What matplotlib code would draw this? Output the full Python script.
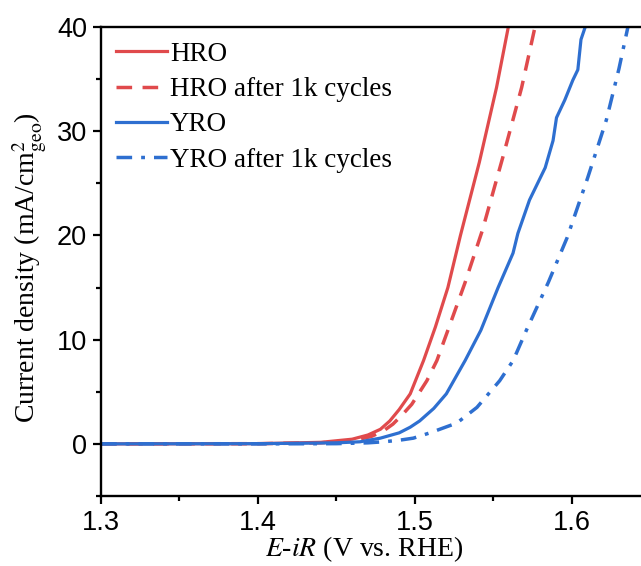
import numpy as np
import matplotlib
matplotlib.use("Agg")
import matplotlib.pyplot as plt
from matplotlib.ticker import MultipleLocator

plt.rcParams['font.family'] = ['Liberation Serif', 'DejaVu Serif']
plt.rcParams['mathtext.fontset'] = 'stix'

# values
hro_x = [1.30, 1.40, 1.44, 1.46, 1.47, 1.478, 1.484, 1.490, 1.497, 1.5055, 1.513, 1.521, 1.529, 1.541, 1.552, 1.5595]
hro_y = [0.0, 0.02, 0.15, 0.45, 0.85, 1.4, 2.2, 3.3, 4.8, 8.0, 11.2, 15.0, 20.0, 27.0, 34.2, 40.0]

hro_cyc_x = [1.30, 1.40, 1.44, 1.46, 1.472, 1.480, 1.486, 1.492, 1.498, 1.5076, 1.514, 1.521, 1.532, 1.543, 1.556, 1.568, 1.5765]
hro_cyc_y = [0.0, 0.02, 0.1, 0.3, 0.7, 1.25, 1.9, 2.8, 3.8, 6.06, 8.0, 10.9, 15.5, 20.5, 27.5, 34.2, 40.0]

yro_x = [1.30, 1.40, 1.45, 1.465, 1.478, 1.490, 1.497, 1.503, 1.512, 1.520, 1.532, 1.542, 1.553, 1.5625,
         1.5656, 1.573, 1.583, 1.588, 1.5902, 1.5955, 1.6006, 1.6038, 1.6058, 1.6085]
yro_y = [0.0, 0.02, 0.1, 0.2, 0.55, 1.06, 1.6, 2.2, 3.4, 4.8, 8.0, 10.9, 15.0, 18.3,
         20.2, 23.4, 26.5, 29.1, 31.3, 33.0, 34.9, 35.9, 38.8, 40.0]

yro_cyc_x = [1.30, 1.40, 1.45, 1.47, 1.480, 1.490, 1.499, 1.5096, 1.5267, 1.5395, 1.554, 1.5626, 1.571,
             1.585, 1.597, 1.610, 1.622, 1.630, 1.6357]
yro_cyc_y = [0.0, 0.0, 0.02, 0.1, 0.2, 0.35, 0.55, 1.06, 2.0, 3.5, 6.06, 8.0, 10.9,
             15.5, 19.8, 25.5, 31.1, 36.0, 40.0]

red = '#E04A4C'
blue = '#2E6FD0'

fig = plt.figure(figsize=(6.41, 5.66), dpi=100)
ax = fig.add_axes([0.1576, 0.1237, 0.857, 0.8286])

ax.plot(hro_x, hro_y, color=red, lw=2.3, label='HRO')
ax.plot(hro_cyc_x, hro_cyc_y, color=red, lw=2.5, dashes=(4.5, 3), label='HRO after 1k cycles')
ax.plot(yro_x, yro_y, color=blue, lw=2.3, label='YRO')
ax.plot(yro_cyc_x, yro_cyc_y, color=blue, lw=2.5, dashes=(4.5, 2.6, 1.1, 2.6), label='YRO after 1k cycles')

ax.set_xlim(1.3, 1.65)
ax.set_ylim(-5, 40)
ax.xaxis.set_major_locator(MultipleLocator(0.1))
ax.xaxis.set_minor_locator(MultipleLocator(0.05))
ax.yaxis.set_major_locator(MultipleLocator(10))
ax.yaxis.set_minor_locator(MultipleLocator(5))

for s in ax.spines.values():
    s.set_linewidth(1.7)
ax.tick_params(which='major', direction='out', length=6, width=1.6, labelsize=19.5, pad=4)
ax.tick_params(which='minor', direction='out', length=3.5, width=1.6)
for lab in ax.get_xticklabels() + ax.get_yticklabels():
    lab.set_family('Liberation Sans')

ax.set_xlabel('$E$-$iR$ (V vs. RHE)', fontsize=20)
ax.xaxis.set_label_coords(0.478, -0.081, transform=ax.transAxes)
ax.xaxis.label.set_va('top')
ax.set_ylabel('Current density (mA/cm$^{2}_{\\mathrm{geo}}$)', fontsize=20)
ax.yaxis.set_label_coords(-0.097, 0.487, transform=ax.transAxes)

ax.legend(loc='upper left', frameon=False, fontsize=19.5, handlelength=1.9,
          handletextpad=0.1, labelspacing=0.38, borderaxespad=0.15, bbox_to_anchor=(0.0, 1.0))

fig.savefig('out.png', dpi=100)
